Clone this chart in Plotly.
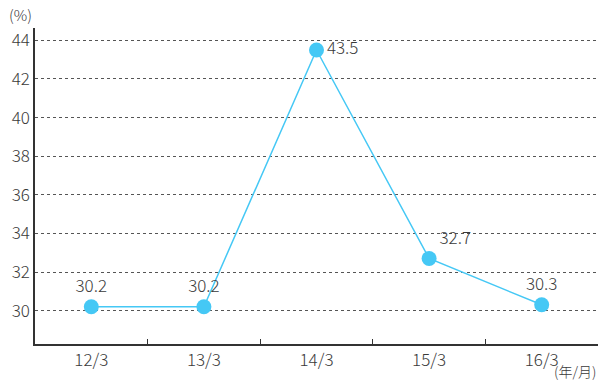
import plotly.graph_objects as go

categories = ["12/3", "13/3", "14/3", "15/3", "16/3"]
values = [30.2, 30.2, 43.5, 32.7, 30.3]
value_labels = ["30.2", "30.2", "43.5", "32.7", "30.3"]
y_ticks = [30, 32, 34, 36, 38, 40, 42, 44]

label_pos = ["top center", "top center", "middle right", "top right", "top center"]

FONT = "Noto Sans CJK JP, Noto Sans, sans-serif"
TXT = "#3a3a3a"
BLUE = "#45c8f5"

fig = go.Figure()
fig.add_trace(go.Scatter(
    x=categories, y=values,
    mode="lines+markers+text",
    line=dict(color=BLUE, width=1.5),
    marker=dict(color=BLUE, size=15),
    text=value_labels,
    textposition=label_pos,
    textfont=dict(family=FONT, size=17, color=TXT, weight=300),
    cliponaxis=False,
    hoverinfo="skip",
))

fig.update_layout(
    width=600, height=380,
    margin=dict(l=35, r=2, t=28, b=36),
    paper_bgcolor="white", plot_bgcolor="white",
    showlegend=False,
    font=dict(family=FONT, size=16, color=TXT, weight=300),
)
fig.update_xaxes(
    type="category",
    tickson="boundaries",
    ticks="inside", ticklen=5, tickcolor="#333", tickwidth=1,
    showline=True, linecolor="#333", linewidth=1.5,
    showgrid=False, zeroline=False,
    tickfont=dict(family=FONT, size=17, color=TXT, weight=300),
    ticklabelstandoff=0,
    range=[-0.5, 4.5],
)
fig.update_yaxes(
    range=[28.27, 44.64],
    tickvals=y_ticks,
    ticktext=[str(v) for v in y_ticks],
    showline=True, linecolor="#333", linewidth=1.5,
    showgrid=True, gridcolor="#555", griddash="dot", gridwidth=1,
    zeroline=False, ticks="",
    tickfont=dict(family=FONT, size=17, color=TXT, weight=300),
)
fig.add_annotation(text="(%)", xref="paper", yref="paper", x=0, y=1,
                   xanchor="right", yanchor="bottom", xshift=-1, yshift=1,
                   showarrow=False, font=dict(family=FONT, size=15, color=TXT, weight=300))
fig.add_annotation(text="(年/月)", xref="paper", yref="paper", x=1, y=0,
                   xanchor="right", yanchor="bottom", yshift=-39,
                   showarrow=False, font=dict(family=FONT, size=14, color=TXT, weight=300))

fig.write_html("out.html")
